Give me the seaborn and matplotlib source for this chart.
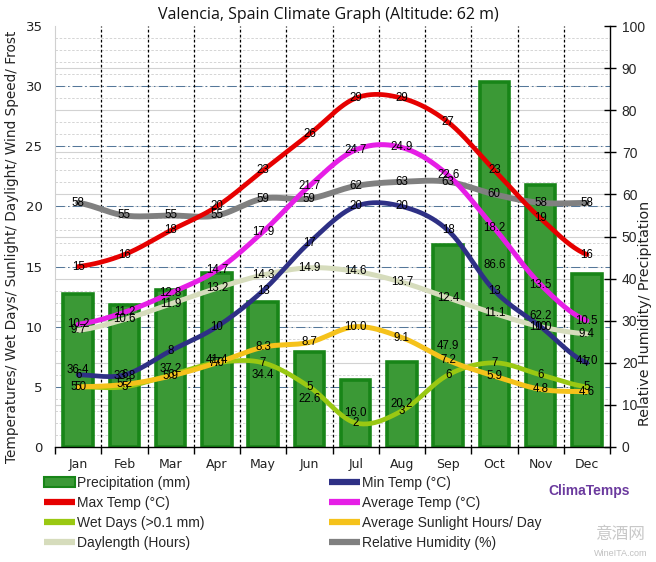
import numpy as np
import pandas as pd
import matplotlib
matplotlib.use("Agg")
import matplotlib.pyplot as plt
import seaborn as sns
from matplotlib.lines import Line2D
from matplotlib.patches import Patch
from matplotlib.ticker import FixedLocator

# ---------------- data ----------------
months = ["Jan", "Feb", "Mar", "Apr", "May", "Jun", "Jul", "Aug", "Sep", "Oct", "Nov", "Dec"]
precip = [36.4, 33.8, 37.2, 41.4, 34.4, 22.6, 16.0, 20.2, 47.9, 86.6, 62.2, 41.0]
max_temp = [15, 16, 18, 20, 23, 26, 29, 29, 27, 23, 19, 16]
min_temp = [6, 6, 8, 10, 13, 17, 20, 20, 18, 13, 10, 7]
avg_temp = [10.2, 11.2, 12.8, 14.7, 17.9, 21.7, 24.7, 24.9, 22.6, 18.2, 13.5, 10.5]
wet_days = [5, 5, 6, 7, 7, 5, 2, 3, 6, 7, 6, 5]
sunlight = [5.0, 5.2, 5.9, 7.0, 8.3, 8.7, 10.0, 9.1, 7.2, 5.9, 4.8, 4.6]
daylength = [9.7, 10.6, 11.9, 13.2, 14.3, 14.9, 14.6, 13.7, 12.4, 11.1, 10.0, 9.4]
humidity = [58, 55, 55, 55, 59, 59, 62, 63, 63, 60, 58, 58]

left_ticks = [0, 5, 10, 15, 20, 25, 30, 35]
right_ticks = [0, 10, 20, 30, 40, 50, 60, 70, 80, 90, 100]

# ---------------- style ----------------
sns.set_theme(style="white")
plt.rcParams["font.family"] = ["DejaVu Sans"]

C_BAR = "#3b9936"
C_BAR_EDGE = "#188518"
C_MAX = "#e60000"
C_MIN = "#2e3085"
C_AVG = "#e61ee6"
C_WET = "#9ac812"
C_SUN = "#f5c21b"
C_DAY = "#d6dcbc"
C_HUM = "#808080"

W, H = 656, 562
fig = plt.figure(figsize=(W / 100, H / 100), dpi=100)
fig.patch.set_facecolor("white")

x0, x1, y0, y1 = 55, 610, 26, 447
ax_r = fig.add_axes([x0 / W, 1 - y1 / H, (x1 - x0) / W, (y1 - y0) / H])
ax_l = ax_r.twinx()

LMAX, RMAX = 35.0, 100.0
ax_r.set_ylim(0, RMAX)
ax_l.set_ylim(0, LMAX)
ax_r.set_xlim(-0.5, 11.5)
ax_r.set_facecolor("white")


def smooth(vals, n=24):
    """Catmull-Rom curve through the given points (rendering only)."""
    p = np.asarray(vals, dtype=float)
    pp = np.concatenate([[p[0]], p, [p[-1]]])
    xs, ys = [], []
    for i in range(len(p) - 1):
        p0, p1, p2, p3 = pp[i], pp[i + 1], pp[i + 2], pp[i + 3]
        m1 = (p2 - p0) / 2.0
        m2 = (p3 - p1) / 2.0
        t = np.linspace(0, 1, n, endpoint=(i == len(p) - 2))
        h00 = 2 * t**3 - 3 * t**2 + 1
        h10 = t**3 - 2 * t**2 + t
        h01 = -2 * t**3 + 3 * t**2
        h11 = t**3 - t**2
        xs.append(i + t)
        ys.append(h00 * p1 + h10 * m1 + h01 * p2 + h11 * m2)
    return np.concatenate(xs), np.concatenate(ys)


# ---------------- grid (behind the bars) ----------------
minor_pos = [v * RMAX / LMAX for v in range(1, 35)]
for v in minor_pos:
    ax_r.axhline(v, color="#cfcfcf", lw=0.6, ls=(0, (3, 2)), zorder=0)
for v in right_ticks[1:-1]:
    ax_r.axhline(v, color="#d2d2d2", lw=0.8, ls="-", zorder=0.1)
for v in left_ticks[1:-1]:
    ax_r.axhline(v * RMAX / LMAX, color="#557799", lw=0.75, ls=(0, (9, 3, 1.5, 3)), zorder=0.2)
for i in range(11):
    ax_r.axvline(i + 0.5, color="black", lw=0.9, ls=(0, (2.2, 1.8)), zorder=0.3)

# ---------------- bars ----------------
df = pd.DataFrame({"month": months, "precip": precip})
sns.barplot(data=df, x="month", y="precip", ax=ax_r, color=C_BAR, width=0.64,
            saturation=1, edgecolor=C_BAR_EDGE, linewidth=2.6, zorder=2)
ax_r.set_xlim(-0.5, 11.5)

# humidity (right axis)
hx, hy = smooth(humidity)
sns.lineplot(x=hx, y=hy, ax=ax_r, color=C_HUM, lw=4.2, sort=False, estimator=None, zorder=3)

# ---------------- lines on left axis ----------------
series = [
    (daylength, C_DAY, 3.6),
    (wet_days, C_WET, 3.4),
    (sunlight, C_SUN, 3.6),
    (min_temp, C_MIN, 3.4),
    (avg_temp, C_AVG, 3.6),
    (max_temp, C_MAX, 3.4),
]
for vals, col, lw in series:
    sx, sy = smooth(vals)
    sns.lineplot(x=sx, y=sy, ax=ax_l, color=col, lw=lw, sort=False, estimator=None)

ax_l.set_ylim(0, LMAX)
ax_l.set_xlim(-0.5, 11.5)

# ---------------- data labels ----------------
lab_kw = dict(ha="center", va="center", fontsize=8.3, color="black",
              family=["Liberation Sans", "DejaVu Sans"], zorder=10)


def fmt(v, dec):
    return f"{v:.1f}" if dec else f"{int(round(v))}"


for i in range(12):
    ax_l.text(i, precip[i] / 2, f"{precip[i]:.1f}", transform=ax_r.transData, **lab_kw)
    ax_l.text(i, humidity[i], fmt(humidity[i], False), transform=ax_r.transData, **lab_kw)
for vals, dec in [(max_temp, False), (min_temp, False), (avg_temp, True), (wet_days, False),
                  (sunlight, True), (daylength, True)]:
    for i, v in enumerate(vals):
        ax_l.text(i, v, fmt(v, dec), **lab_kw)

# ---------------- axes cosmetics ----------------
for a in (ax_r, ax_l):
    a.spines["top"].set_visible(False)
    a.set_xlabel("")
    a.set_ylabel("")
ax_l.spines["right"].set_visible(False)
ax_l.spines["bottom"].set_visible(False)
ax_l.spines["left"].set_visible(False)
ax_r.spines["left"].set_color("#d0d0d0")
ax_r.spines["left"].set_linewidth(0.8)
ax_r.spines["right"].set_color("black")
ax_r.spines["right"].set_linewidth(1.0)
ax_r.spines["bottom"].set_color("black")
ax_r.spines["bottom"].set_linewidth(1.0)

ax_r.yaxis.tick_right()
ax_r.set_yticks(right_ticks)
ax_r.set_yticklabels([str(t) for t in right_ticks], family=["Liberation Sans", "DejaVu Sans"], fontsize=10)
ax_r.tick_params(axis="y", which="major", direction="inout", length=9, width=1, color="black",
                 pad=4, right=True, left=False, labelright=True, labelleft=False)

ax_l.yaxis.tick_left()
ax_l.set_yticks(left_ticks)
ax_l.set_yticklabels([str(t) for t in left_ticks], fontsize=9.5, color="#222222")
ax_l.tick_params(axis="y", length=0, pad=9, left=True, right=False, labelleft=True, labelright=False)
ax_l.set_xticks([])

ax_r.set_xticks(range(12))
ax_r.set_xticklabels(months, fontsize=9, color="#222222")
ax_r.xaxis.set_minor_locator(FixedLocator([i - 0.5 for i in range(13)]))
ax_r.tick_params(axis="x", which="major", length=0, pad=8)
ax_r.tick_params(axis="x", which="minor", direction="out", length=5, width=1, color="black", bottom=True)

# ---------------- titles ----------------
fig.text(0.5, 1 - 15 / H, "Valencia, Spain Climate Graph (Altitude: 62 m)", ha="center", va="center",
         fontsize=11.5, family=["Open Sans", "DejaVu Sans"], color="#111111")
fig.text(12 / W, 1 - 247 / H, "Temperatures/ Wet Days/ Sunlight/ Daylight/ Wind Speed/ Frost",
         rotation=90, ha="center", va="center", fontsize=9.8, color="#222222")
fig.text(645 / W, 1 - 313 / H, "Relative Humidity/ Precipitation", rotation=90, ha="center",
         va="center", fontsize=10.3, color="#222222")

# ---------------- legend ----------------
h1 = [Patch(facecolor=C_BAR, edgecolor=C_BAR_EDGE, linewidth=1.5),
      Line2D([], [], color=C_MAX, lw=4.5, solid_capstyle="butt"),
      Line2D([], [], color=C_WET, lw=4.5, solid_capstyle="butt"),
      Line2D([], [], color=C_DAY, lw=4.5, solid_capstyle="butt")]
l1 = ["Precipitation (mm)", "Max Temp (\u00b0C)", "Wet Days (>0.1 mm)", "Daylength (Hours)"]
h2 = [Line2D([], [], color=C_MIN, lw=4.5, solid_capstyle="butt"),
      Line2D([], [], color=C_AVG, lw=4.5, solid_capstyle="butt"),
      Line2D([], [], color=C_SUN, lw=4.5, solid_capstyle="butt"),
      Line2D([], [], color=C_HUM, lw=4.5, solid_capstyle="butt")]
l2 = ["Min Temp (\u00b0C)", "Average Temp (\u00b0C)", "Average Sunlight Hours/ Day", "Relative Humidity (%)"]
leg_kw = dict(loc="upper left", frameon=False, handlelength=2.2, handletextpad=0.15,
              labelspacing=0.42, borderpad=0, borderaxespad=0,
              prop={"family": ["Liberation Sans", "DejaVu Sans"], "size": 10})
fig.legend(h1, l1, bbox_to_anchor=(44 / W, 1 - 476 / H), **leg_kw)
fig.legend(h2, l2, bbox_to_anchor=(329 / W, 1 - 476 / H), **leg_kw)

fig.text(589 / W, 1 - 491 / H, "ClimaTemps", ha="center", va="center", fontsize=10,
         fontweight="bold", color="#6b3a9e", family=["Liberation Sans", "DejaVu Sans"])
fig.text(621 / W, 1 - 535 / H, "意酒网", ha="center", va="center", fontsize=12,
         color="#c8c8c8", family=["Noto Sans CJK SC", "DejaVu Sans"])
fig.text(621 / W, 1 - 553 / H, "WineITA.com", ha="center", va="center", fontsize=6.5,
         color="#c0c0c0", family=["Liberation Sans", "DejaVu Sans"])

fig.savefig("out.png", dpi=100, facecolor="white")
